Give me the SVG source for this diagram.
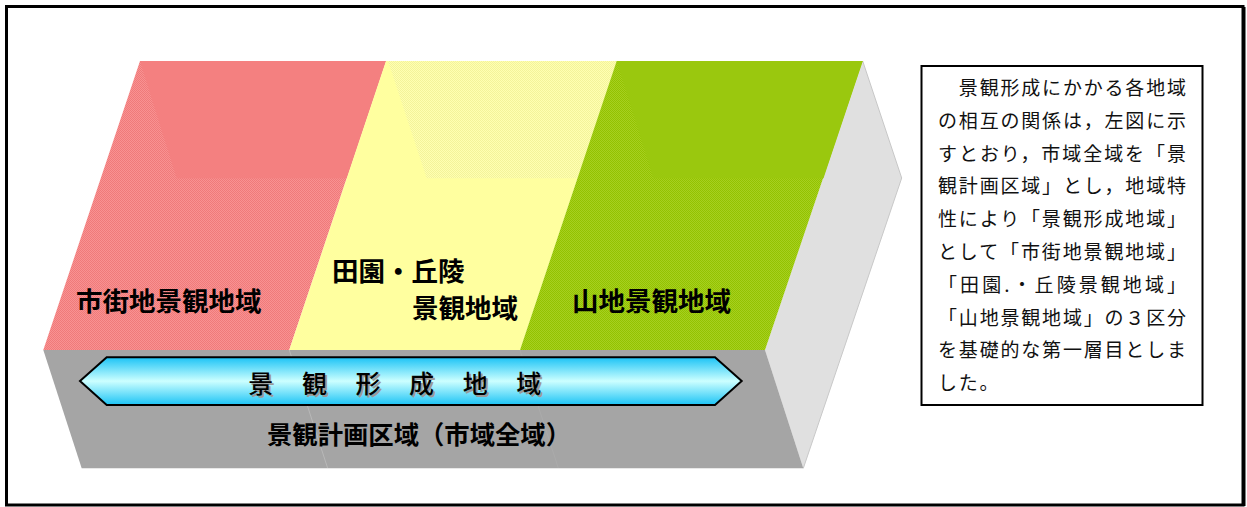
<svg xmlns="http://www.w3.org/2000/svg" width="1247" height="507" viewBox="0 0 1247 507">
<style>
.lbl{font-family:"Noto Sans CJK JP","Noto Sans CJK SC",sans-serif;font-weight:700;font-size:26.5px;fill:#000}
.blbl{font-family:"Noto Sans CJK JP","Noto Sans CJK SC",sans-serif;font-weight:700;font-size:25.5px;fill:#000}
.arr{font-family:"Noto Sans CJK JP","Noto Sans CJK SC",sans-serif;font-weight:500;font-size:25px}
.note{font-family:"Noto Sans CJK JP","Noto Sans CJK SC",sans-serif;font-size:19px;fill:#111}
</style>
<defs>
<pattern id="dPink" width="2" height="2" patternUnits="userSpaceOnUse"><rect width="2" height="2" fill="#F99292"/><rect width="1" height="1" fill="#EF7A7A"/><rect x="1" y="1" width="1" height="1" fill="#EF7A7A"/></pattern>
<pattern id="dYel" width="2" height="2" patternUnits="userSpaceOnUse"><rect width="2" height="2" fill="#FFFFB2"/><rect width="1" height="1" fill="#F3F39A"/><rect x="1" y="1" width="1" height="1" fill="#F3F39A"/></pattern>
<pattern id="dGrn" width="2" height="2" patternUnits="userSpaceOnUse"><rect width="2" height="2" fill="#A6D020"/><rect width="1" height="1" fill="#93C200"/><rect x="1" y="1" width="1" height="1" fill="#93C200"/></pattern>
<linearGradient id="gArrow" x1="0" y1="0" x2="0" y2="1">
<stop offset="0" stop-color="#1CC3F5"/>
<stop offset="0.5" stop-color="#CCFFFF"/>
<stop offset="1" stop-color="#1CC3F5"/>
</linearGradient>
</defs>

<rect x="0" y="0" width="1247" height="507" fill="#fff"/>
<rect id="frame" x="6.5" y="6.5" width="1236.5" height="498.5" fill="none" stroke="#000" stroke-width="3"/>
<line x1="1244.5" y1="7" x2="1244.5" y2="506" stroke="#000" stroke-width="2"/>

<g id="block">
<polygon points="862.7,61 901.7,178 803.3,468.3 765,350" fill="#E0E0E0"/>
<polyline points="862.7,61 901.7,178 803.3,468.3" fill="none" stroke="#C8C8C8" stroke-width="1"/>
<polygon points="43.3,350 765,350 803.3,468.3 81.7,468.3" fill="#A5A5A5"/>
<line x1="289.3" y1="350" x2="327.6" y2="468" stroke="#B8B8B8" stroke-width="1"/>
<line x1="520" y1="350" x2="558.3" y2="468" stroke="#ABABAB" stroke-width="1"/>
</g>

<g id="shigaichi">
<polygon points="140,61 386,61 289.3,350 43.3,350" fill="url(#dPink)"/>
<polygon points="140,61 386,61 346.8,178.3 176.7,178.3" fill="#F48080"/>
<text class="lbl" x="76" y="311">市街地景観地域</text>
</g>

<g id="denen">
<polygon points="386,61 616.7,61 520,350 289.3,350" fill="#FFFF9F"/>
<polygon points="388,61 616.7,61 577.5,178.3 426.7,178.3" fill="url(#dYel)"/>
<text class="lbl" x="332" y="281">田園・丘陵</text>
<text class="lbl" x="412" y="318">景観地域</text>
</g>

<g id="sanchi">
<polygon points="616.7,61 862.7,61 765,350 520,350" fill="url(#dGrn)"/>
<polygon points="616.7,61 862.7,61 823.5,178.3 653.3,178.3" fill="#9AC80E"/>
<text class="lbl" x="572" y="311">山地景観地域</text>
</g>

<g id="keikan-keisei">
<polygon points="80,381 106.7,357.3 715,357.3 741.7,381 715,405 106.7,405" fill="url(#gArrow)" stroke="#000" stroke-width="2" stroke-linejoin="miter"/>
<text class="arr" fill="#9a9a9a" x="250.3 303.9 357.5 411.1 464.7 518.3" y="395">景観形成地域</text>
<text class="arr" fill="#000" x="248.3 301.9 355.5 409.1 462.7 516.3" y="393">景観形成地域</text>
</g>

<g id="keikan-keikaku">
<text class="blbl" x="267" y="444" textLength="304" lengthAdjust="spacingAndGlyphs">景観計画区域（市域全域）</text>
</g>

<g id="note">
<rect x="921.5" y="66" width="281" height="339" fill="#fff" stroke="#000" stroke-width="2"/>
<text class="note" x="938" y="95" textLength="248">　景観形成にかかる各地域</text>
<text class="note" x="938" y="127.8" textLength="248">の相互の関係は，左図に示</text>
<text class="note" x="938" y="160.6" textLength="248">すとおり，市域全域を「景</text>
<text class="note" x="938" y="193.4" textLength="248">観計画区域」とし，地域特</text>
<text class="note" x="938" y="226.2" textLength="248">性により「景観形成地域」</text>
<text class="note" x="938" y="259" textLength="248">として「市街地景観地域」</text>
<text class="note" x="938" y="291.8" textLength="248">「田園.・丘陵景観地域」</text>
<text class="note" x="938" y="324.6" textLength="248">「山地景観地域」の３区分</text>
<text class="note" x="938" y="357.4" textLength="248">を基礎的な第一層目としま</text>
<text class="note" x="938" y="390.2" letter-spacing="1.7">した。</text>
</g>
</svg>
